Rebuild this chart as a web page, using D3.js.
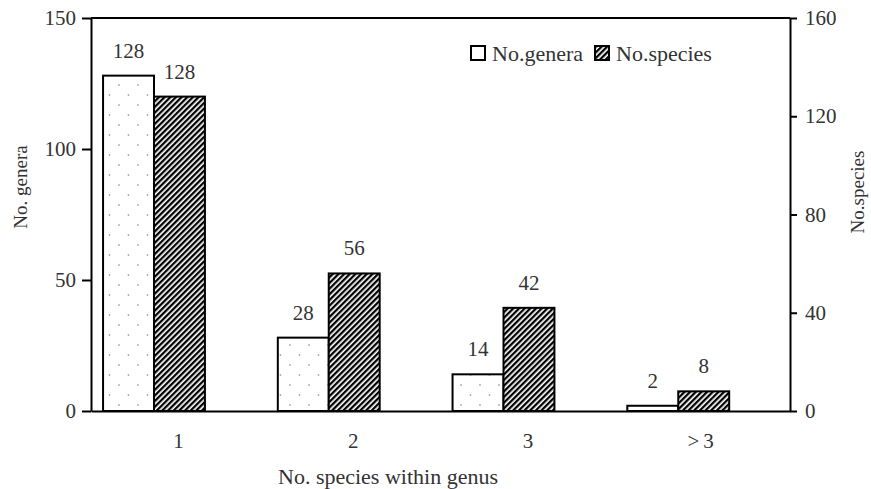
<!DOCTYPE html>
<html lang="en">
<head>
<meta charset="utf-8">
<script src="https://cdn.jsdelivr.net/npm/d3@7"></script>
<style>
  body { margin: 0; background: #fff; }
</style>
</head>
<body>
<svg id="chart" width="871" height="489"></svg>
<script>
const categories = ['1', '2', '3', '>3'];
const genera = [128, 28, 14, 2];
const species = [128, 56, 42, 8];
const leftTicks = [0, 50, 100, 150];
const rightTicks = [0, 40, 80, 120, 160];
const fontNames = ['Liberation Serif'];

const svg = d3.select('#chart');
const plotL = 91, plotR = 790, plotT = 18, plotB = 411;

// Times-like type in dark grey
const setFont = (sel, size) => sel
  .style('font-family', () => `"${fontNames[0]}"`)
  .attr('font-size', size)
  .attr('fill', '#333');

// patterns
const defs = svg.append('defs');
const dots = defs.append('pattern')
  .attr('id', 'dots').attr('patternUnits', 'userSpaceOnUse')
  .attr('width', 19).attr('height', 20);
dots.append('rect').attr('width', 19).attr('height', 20).attr('fill', '#fff');
dots.append('circle').attr('cx', 5).attr('cy', 5).attr('r', 0.9).attr('fill', '#aaa');
dots.append('circle').attr('cx', 14.5).attr('cy', 15).attr('r', 0.9).attr('fill', '#aaa');

const hatch = defs.append('pattern')
  .attr('id', 'hatch').attr('patternUnits', 'userSpaceOnUse')
  .attr('width', 4).attr('height', 4)
  .attr('patternTransform', 'rotate(45)');
hatch.append('rect').attr('width', 4).attr('height', 4).attr('fill', '#fff');
hatch.append('rect').attr('width', 2.3).attr('height', 4).attr('fill', '#000');

const x = d3.scaleBand().domain(categories).range([plotL, plotR]);
const bw = x.bandwidth();
const sub = d3.scaleBand().domain(['genera', 'species']).range([0.069 * bw, 0.652 * bw]);
const yL = d3.scaleLinear().domain([0, 150]).range([plotB, plotT]);
const yR = d3.scaleLinear().domain([0, 160]).range([plotB, plotT]);

const rows = categories.map((c, i) => ({c, g: genera[i], s: species[i]}));

// bars
const grp = svg.append('g');
grp.selectAll('.bar-g').data(rows).enter().append('rect')
  .attr('x', d => x(d.c) + sub('genera'))
  .attr('width', sub.bandwidth())
  .attr('y', d => yL(d.g))
  .attr('height', d => plotB - yL(d.g))
  .attr('fill', 'url(#dots)').attr('stroke', '#000').attr('stroke-width', 2);
grp.selectAll('.bar-s').data(rows).enter().append('rect')
  .attr('x', d => x(d.c) + sub('species'))
  .attr('width', sub.bandwidth())
  .attr('y', d => yR(d.s))
  .attr('height', d => plotB - yR(d.s))
  .attr('fill', 'url(#hatch)').attr('stroke', '#000').attr('stroke-width', 2);

// value labels
svg.selectAll('.lab-g').data(rows).enter().append('text')
  .attr('x', d => x(d.c) + sub('genera') + sub.bandwidth() / 2)
  .attr('y', d => yL(d.g) - 18)
  .attr('text-anchor', 'middle')
  .call(setFont, 21)
  .text(d => d.g);
svg.selectAll('.lab-s').data(rows).enter().append('text')
  .attr('x', d => x(d.c) + sub('species') + sub.bandwidth() / 2)
  .attr('y', d => yR(d.s) - 18)
  .attr('text-anchor', 'middle')
  .call(setFont, 21)
  .text(d => d.s);

// axes
const aL = svg.append('g')
  .attr('transform', `translate(${plotL},0)`)
  .call(d3.axisLeft(yL).tickValues(leftTicks).tickSize(9).tickSizeOuter(0).tickPadding(6));
const aR = svg.append('g')
  .attr('transform', `translate(${plotR},0)`)
  .call(d3.axisRight(yR).tickValues(rightTicks).tickSize(7).tickSizeOuter(0).tickPadding(8));
const aB = svg.append('g')
  .attr('transform', `translate(0,${plotB})`)
  .call(d3.axisBottom(x).tickSize(0).tickSizeOuter(0).tickPadding(22));

[aL, aR, aB].forEach(a => {
  a.attr('font-family', null).attr('font-size', null);
  a.selectAll('path, line').attr('stroke', '#000').attr('stroke-width', 2);
  a.selectAll('text').call(setFont, 21);
});
aB.selectAll('text').filter(d => d === '>3').attr('letter-spacing', 4);

// top frame line
svg.append('line')
  .attr('x1', plotL).attr('x2', plotR).attr('y1', plotT).attr('y2', plotT)
  .attr('stroke', '#000').attr('stroke-width', 2);

// axis titles
svg.append('text')
  .attr('x', 388).attr('y', 484)
  .attr('text-anchor', 'middle')
  .call(setFont, 22)
  .text('No. species within genus');
svg.append('text')
  .attr('transform', 'translate(27,187) rotate(-90)')
  .attr('text-anchor', 'middle')
  .call(setFont, 19)
  .text('No. genera');
svg.append('text')
  .attr('transform', 'translate(864,192) rotate(-90)')
  .attr('text-anchor', 'middle')
  .call(setFont, 19)
  .text('No.species');

// legend
const legend = [
  {label: 'No.genera', fill: '#fff', x: 471},
  {label: 'No.species', fill: 'url(#hatch)', x: 595}
];
const lg = svg.append('g').selectAll('g').data(legend).enter().append('g')
  .attr('transform', d => `translate(${d.x},46)`);
lg.append('rect').attr('width', 14).attr('height', 14)
  .attr('fill', d => d.fill).attr('stroke', '#000').attr('stroke-width', 2);
lg.append('text').attr('x', 21).attr('y', 15)
  .call(setFont, 22)
  .text(d => d.label);
</script>
</body>
</html>
